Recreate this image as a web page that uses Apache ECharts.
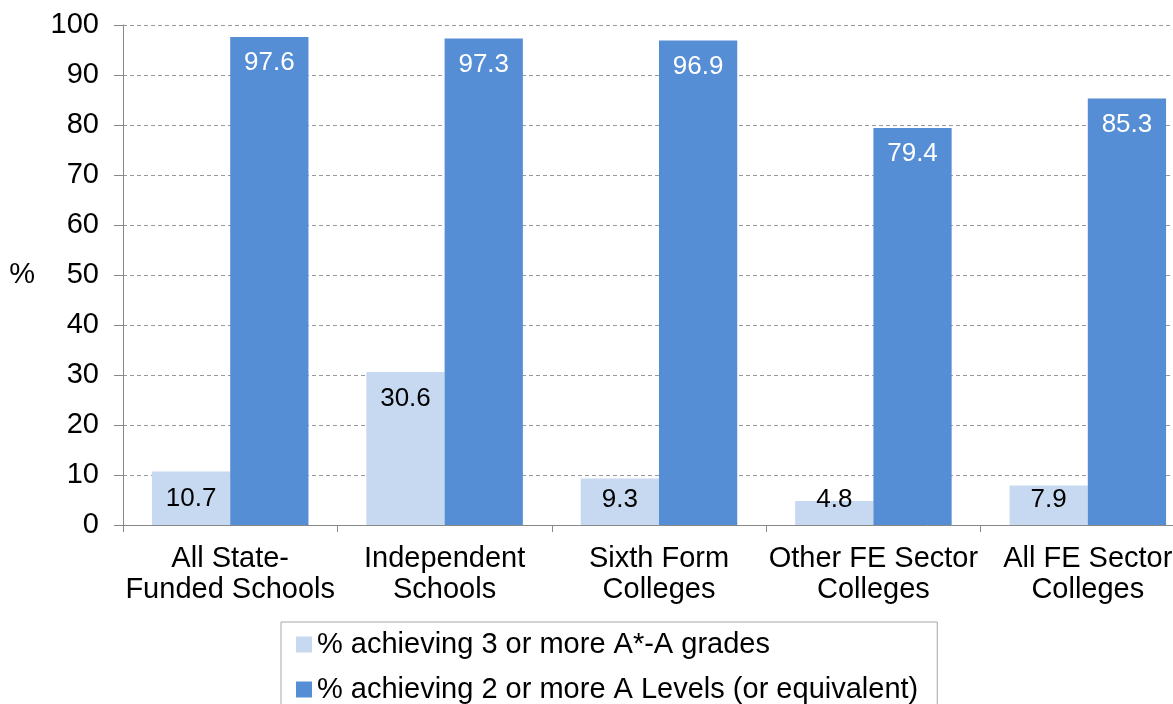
<!DOCTYPE html>
<html>
<head>
<meta charset="utf-8">
<script src="https://cdn.jsdelivr.net/npm/echarts@6/dist/echarts.min.js"></script>
<style>
html, body { margin: 0; padding: 0; background: #fff; overflow: hidden; }
/* the source image is cropped right and bottom, so the canvas runs past the window */
#chart { width: 1200px; height: 720px; }
</style>
</head>
<body>
<div id="chart"></div>
<script>
// data
var categories = ['All State-\nFunded Schools', 'Independent\nSchools', 'Sixth Form\nColleges', 'Other FE Sector\nColleges', 'All FE Sector\nColleges'];
var threeAStar = [10.7, 30.6, 9.3, 4.8, 7.9];
var twoALevels = [97.6, 97.3, 96.9, 79.4, 85.3];
var seriesNames = ['% achieving 3 or more A*-A grades', '% achieving 2 or more A Levels (or equivalent)'];

var font = '"Liberation Sans", Arial, sans-serif';
var chart = echarts.init(document.getElementById('chart'));

// short bars: label sits on a fixed line above the axis instead of under the top
function withLabels(values) {
    return values.map(function (v) {
        if (v < 10.5) {
            return { value: v, label: { position: 'insideBottom', distance: 12 } };
        }
        return v;
    });
}

chart.setOption({
    animation: false,
    textStyle: { fontFamily: font },
    grid: { left: 123, right: 5, top: 25, bottom: 195 },
    legend: {
        orient: 'vertical',
        left: 281,
        top: 622,
        itemWidth: 16,
        itemHeight: 16,
        itemGap: 16,
        padding: [8, 19, 10, 15],
        borderColor: '#a6a6a6',
        borderWidth: 1,
        icon: 'rect',
        textStyle: { fontSize: 29, lineHeight: 29, color: '#000', fontFamily: font },
        data: seriesNames
    },
    xAxis: {
        type: 'category',
        data: categories,
        axisLine: { lineStyle: { color: '#888', width: 1 } },
        axisTick: { show: true, length: 7, lineStyle: { color: '#888' } },
        axisLabel: { fontSize: 29, color: '#000', lineHeight: 31, margin: 18, interval: 0 }
    },
    yAxis: {
        type: 'value',
        min: 0,
        max: 100,
        interval: 10,
        name: '%',
        nameLocation: 'middle',
        nameRotate: 0,
        nameGap: 88,
        nameTextStyle: { fontSize: 29, color: '#000' },
        axisLine: { show: true, lineStyle: { color: '#888', width: 1 } },
        axisTick: { show: true, length: 9, lineStyle: { color: '#888' } },
        axisLabel: { fontSize: 29, color: '#000', margin: 24 },
        splitLine: { lineStyle: { type: [4, 3], color: '#999', width: 1 } }
    },
    series: [
        {
            name: seriesNames[0],
            type: 'bar',
            data: withLabels(threeAStar),
            barGap: '0%',
            barCategoryGap: '27%',
            itemStyle: { color: '#c6d9f1' },
            label: { show: true, position: 'insideTop', distance: 14, fontSize: 26, color: '#000' }
        },
        {
            name: seriesNames[1],
            type: 'bar',
            data: twoALevels,
            barGap: '0%',
            barCategoryGap: '27%',
            itemStyle: { color: '#558ed5' },
            label: { show: true, position: 'insideTop', distance: 13, fontSize: 26, color: '#fff' }
        }
    ]
});
</script>
</body>
</html>
